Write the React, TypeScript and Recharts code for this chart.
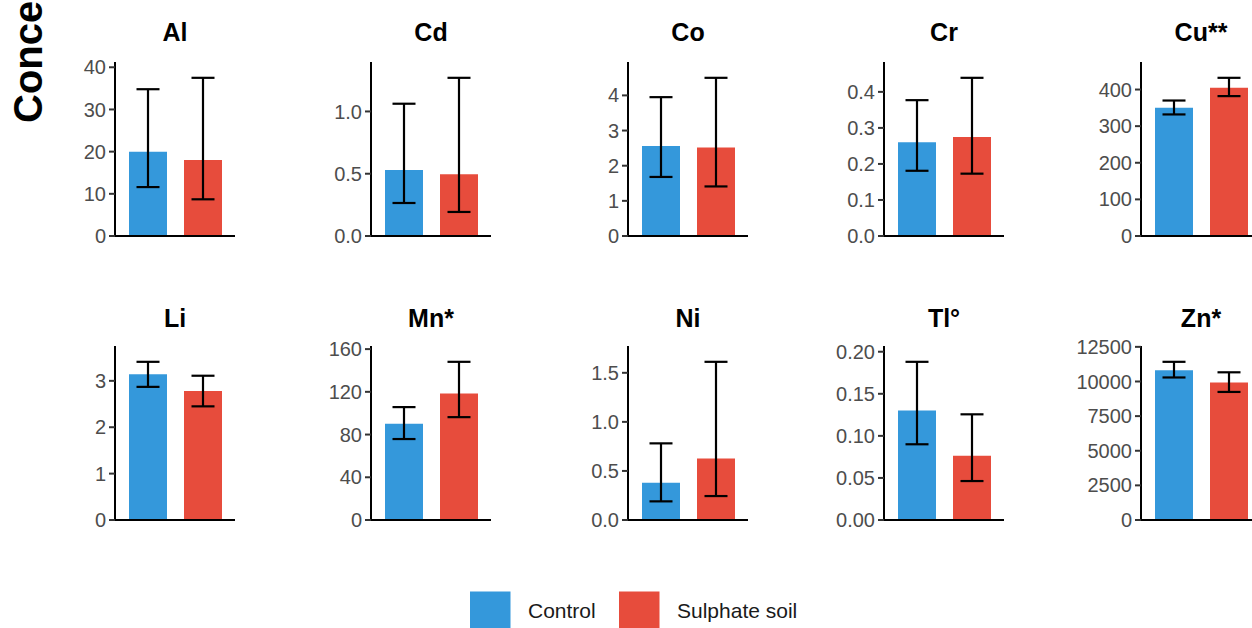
import React from 'react';
import { BarChart, Bar, XAxis, YAxis, ErrorBar, Cell, ReferenceLine } from 'recharts';

const groups = ['Control', 'Sulphate soil'];
const colors = ['#3498DB', '#E74C3C'];
const elements = ['Al', 'Cd', 'Co', 'Cr', 'Cu**', 'Li', 'Mn*', 'Ni', 'Tl°', 'Zn*'];
const controlMean = [20, 0.53, 2.56, 0.26, 350, 3.14, 90, 0.38, 0.13, 10820];
const controlLow = [11.6, 0.265, 1.68, 0.181, 332, 2.87, 75.8, 0.19, 0.09, 10290];
const controlHigh = [34.8, 1.062, 3.95, 0.377, 370, 3.41, 105.7, 0.781, 0.188, 11420];
const sulphateMean = [18, 0.495, 2.52, 0.275, 405, 2.78, 118.5, 0.628, 0.0764, 9920];
const sulphateLow = [8.7, 0.193, 1.41, 0.173, 382, 2.45, 96.3, 0.244, 0.0463, 9245];
const sulphateHigh = [37.5, 1.27, 4.5, 0.439, 432, 3.11, 148.1, 1.612, 0.1256, 10663];
const yTicks = [
  [0, 10, 20, 30, 40],
  [0, 0.5, 1],
  [0, 1, 2, 3, 4],
  [0, 0.1, 0.2, 0.3, 0.4],
  [0, 100, 200, 300, 400],
  [0, 1, 2, 3],
  [0, 40, 80, 120, 160],
  [0, 0.5, 1, 1.5],
  [0, 0.05, 0.1, 0.15, 0.2],
  [0, 2500, 5000, 7500, 10000, 12500],
];
const tickDecimals = [0, 1, 0, 1, 0, 0, 0, 1, 2, 0];
const yAxisTitle = 'Concentration (mg/kg)';

const FONT = '"Liberation Sans", Arial, sans-serif';
const colX = [115, 371, 628, 884, 1141];
const rowPlotTop = [62, 346];
const rowTitleBase = [40.7, 326.7];
const PLOT_H = 174;
const PLOT_W = 120;
const YW = 80;
const M = 10;

function Panel({ i }: { i: number }) {
  const data = [
    { name: groups[0], value: controlMean[i], err: [controlMean[i] - controlLow[i], controlHigh[i] - controlMean[i]] },
    { name: groups[1], value: sulphateMean[i], err: [sulphateMean[i] - sulphateLow[i], sulphateHigh[i] - sulphateMean[i]] },
  ];
  const top = Math.max(controlHigh[i], sulphateHigh[i]) * 1.1;
  const row = Math.floor(i / 5);
  const col = i % 5;
  const left = colX[col] - YW;
  const t = rowPlotTop[row] - M;
  return (
    <div style={{ position: 'absolute', left, top: t }}>
      <BarChart width={YW + PLOT_W + M} height={PLOT_H + 2 * M} data={data} margin={{ top: M, right: M, bottom: M, left: 0 }}>
        <XAxis dataKey="name" height={0} tick={false} tickLine={false} axisLine={false} padding={{ left: 5, right: 5 }} />
        <YAxis
          type="number"
          width={YW}
          domain={[0, top]}
          ticks={yTicks[i]}
          interval={0}
          tickSize={6}
          tickMargin={3}
          axisLine={{ stroke: '#000', strokeWidth: 2 }}
          tickLine={{ stroke: '#333', strokeWidth: 2 }}
          tick={{ fill: '#4D4D4D', fontSize: 20, fontFamily: FONT }}
          tickFormatter={(v: number) => v.toFixed(tickDecimals[i])}
        />
        <Bar dataKey="value" barSize={38} isAnimationActive={false}>
          {data.map((d, k) => (
            <Cell key={k} fill={colors[k]} />
          ))}
          <ErrorBar dataKey="err" direction="y" width={11.5} stroke="#000" strokeWidth={2.2} isAnimationActive={false} />
        </Bar>
        <ReferenceLine y={0} stroke="#000" strokeWidth={2} ifOverflow="visible" />
      </BarChart>
    </div>
  );
}

export default function App() {
  return (
    <div style={{ position: 'absolute', left: 0, top: 0, width: 1252, height: 628, overflow: 'hidden', background: '#fff', fontFamily: FONT }}>
      {elements.map((_, i) => (
        <Panel key={i} i={i} />
      ))}
      <svg width={1252} height={628} style={{ position: 'absolute', left: 0, top: 0, pointerEvents: 'none' }}>
        {elements.map((el, i) => (
          <text
            key={el}
            x={colX[i % 5] + PLOT_W / 2}
            y={rowTitleBase[Math.floor(i / 5)]}
            textAnchor="middle"
            fontFamily={FONT}
            fontWeight="bold"
            fontSize={25}
            fill="#000"
          >
            {el}
          </text>
        ))}
        <text x={42} y={123} transform="rotate(-90 42 123)" textAnchor="start" fontFamily={FONT} fontWeight="bold" fontSize={40} fill="#000">
          {yAxisTitle}
        </text>
        {groups.map((g, k) => (
          <g key={g}>
            <rect x={k === 0 ? 470 : 619} y={591.5} width={40.5} height={40} fill={colors[k]} />
            <text x={k === 0 ? 528 : 677} y={617.5} fontFamily={FONT} fontSize={21} fill="#1a1a1a">
              {g}
            </text>
          </g>
        ))}
      </svg>
    </div>
  );
}
